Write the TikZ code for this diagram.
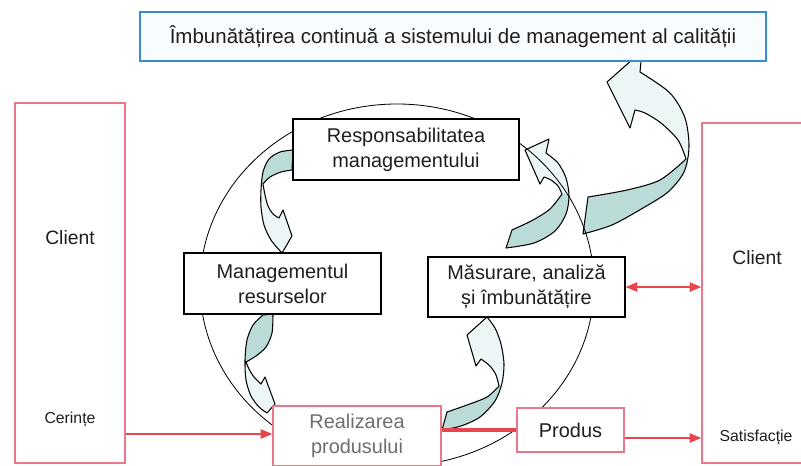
\documentclass[tikz,border=0pt]{standalone}
\usepackage{fontspec}
\setmainfont{Liberation Sans}
\usetikzlibrary{arrows.meta}
\definecolor{pinkb}{RGB}{238,118,138}
\definecolor{redarr}{RGB}{232,70,76}
\definecolor{blueb}{RGB}{55,140,215}
\definecolor{bluefill}{RGB}{248,252,255}
\definecolor{tealD}{RGB}{186,219,215}
\definecolor{tealL}{RGB}{236,246,246}
\definecolor{txt}{RGB}{30,30,30}
\definecolor{graytxt}{RGB}{110,110,110}
\begin{document}
\begin{tikzpicture}[x=0.03cm,y=-0.03cm,
  blackbox/.style={draw=black,line width=1pt,fill=white,inner sep=0pt,align=center,text=txt,font=\fontsize{17}{21.5}\selectfont},
  pinkbox/.style={draw=pinkb,line width=1.2pt,fill=white,inner sep=0pt,align=center,text=txt,font=\fontsize{17}{21.5}\selectfont},
  lbl/.style={text=txt,inner sep=0pt,font=\fontsize{16.5}{21}\selectfont},
  smalllbl/.style={text=txt,inner sep=0pt,font=\fontsize{13.5}{16}\selectfont},
  redarrow/.style={draw=redarr,line width=1.4pt,-{Triangle[length=10pt,width=8pt]}},
  reddouble/.style={draw=redarr,line width=1.4pt,{Triangle[length=10pt,width=8pt]}-{Triangle[length=10pt,width=8pt]}},
  redthick/.style={draw=redarr,line width=3pt},
  outl/.style={draw=black,line width=0.9pt,line join=round},
  ring/.style={draw=black,line width=0.7pt},
  arrApath/.style={insert path={plot[smooth] coordinates {(588,197) (627,190) (660,180) (686,159)}
      -- plot[smooth] coordinates {(686,159) (678,140) (661,123) (645,113) (635,110)}
      -- (630,128) -- (607,82) -- (642,51) -- (640,72)
      -- plot[smooth] coordinates {(640,72) (670,93) (685,118) (689,147) (684,172) (668,192) (643,208) (612,225) (583,234)}
      -- cycle}},
  arrBpath/.style={insert path={plot[smooth] coordinates {(293,150) (280,152) (269,159) (263,172) (261,190) (261,207) (264,225) (271,240) (282,253)}
      -- (292,236) -- (283,210) -- (279,218)
      -- plot[smooth] coordinates {(279,218) (273,214) (268,206) (265,195) (263,184)}
      -- plot[smooth] coordinates {(263,184) (270,177) (281,172) (292,170)}
      -- cycle}},
  arrCpath/.style={insert path={plot[smooth] coordinates {(263,315) (253,325) (247,340) (245,360) (246,380) (251,396) (259,407) (267,413)}
      -- (275,404) -- (265,377) -- (261,384)
      -- plot[smooth] coordinates {(261,384) (254,377) (249,369) (246,362)}
      -- plot[smooth] coordinates {(246,362) (256,356) (266,347) (272,333) (273,314)}
      -- cycle}},
  arrDpath/.style={insert path={(442,430) -- (447,412)
      -- plot[smooth] coordinates {(447,412) (467,405) (487,397) (499,386)}
      -- plot[smooth] coordinates {(499,386) (496,375) (490,366) (481,359)}
      -- (476,366) -- (467,335) -- (487,317)
      -- plot[smooth] coordinates {(487,317) (495,328) (501,344) (504,364) (502,383) (495,401) (480,417) (461,426) (442,430)}
      -- cycle}},
  arrEpath/.style={insert path={(506,248) -- (512,230)
      -- plot[smooth] coordinates {(512,230) (533,220) (550,209) (562,194)}
      -- plot[smooth] coordinates {(562,194) (558,186) (551,180) (544,177)}
      -- (540,184) -- (525,150) -- (549,139) -- (546,153)
      -- plot[smooth] coordinates {(546,153) (558,163) (566,178) (569,196) (566,214) (555,231) (534,243) (506,248)}
      -- cycle}}
]
\useasboundingbox (0,0) rectangle (801,465);

% block arrows
\fill[tealL,arrApath];
\begin{scope}\path[clip,arrApath];
\fill[tealD] plot[smooth] coordinates {(588,197) (627,190) (660,180) (686,159)} -- (700,150) -- (700,260) -- (570,260) -- cycle;
\end{scope}
\path[outl,arrApath];

\fill[tealL,arrBpath];
\begin{scope}\path[clip,arrBpath];
\fill[tealD] plot[smooth] coordinates {(263,184) (270,177) (281,172) (292,170)} -- (300,170) -- (300,140) -- (250,140) -- (250,184) -- cycle;
\end{scope}
\path[outl,arrBpath];

\fill[tealL,arrCpath];
\begin{scope}\path[clip,arrCpath];
\fill[tealD] plot[smooth] coordinates {(246,362) (256,356) (266,347) (272,333) (273,314)} -- (285,305) -- (230,305) -- (230,362) -- cycle;
\end{scope}
\path[outl,arrCpath];

\fill[tealL,arrDpath];
\begin{scope}\path[clip,arrDpath];
\fill[tealD] plot[smooth] coordinates {(447,412) (467,405) (487,397) (499,386)} -- (520,386) -- (520,440) -- (430,440) -- (430,412) -- cycle;
\end{scope}
\path[outl,arrDpath];

\fill[tealL,arrEpath];
\begin{scope}\path[clip,arrEpath];
\fill[tealD] plot[smooth] coordinates {(512,230) (533,220) (550,209) (562,194)} -- (580,194) -- (580,260) -- (500,260) -- (500,230) -- cycle;
\end{scope}
\path[outl,arrEpath];

% ring
\draw[ring] (397,285) ellipse [x radius=5.91cm, y radius=5.43cm];

% top box
\node[draw=blueb,line width=1.8pt,fill=bluefill,minimum width=18.78cm,minimum height=1.47cm,inner sep=0pt,text=txt,font=\fontsize{17.5}{21}\selectfont] (top) at (453,36.5) {Îmbunătățirea continuă a sistemului de management al calității};

% client boxes
\node[draw=pinkb,line width=1.2pt,fill=white,minimum width=3.3cm,minimum height=10.8cm] (clientL) at (70,283) {};
\node[lbl] (clL) at (70,238) {Client};
\node[smalllbl] (cer) at (70,419) {Cerințe};
\node[draw=pinkb,line width=1.2pt,fill=white,minimum width=3.3cm,minimum height=10.2cm] (clientR) at (757,293) {};
\node[lbl] (clR) at (757,258) {Client};
\node[smalllbl] (sat) at (756,437) {Satisfacție};

% process boxes
\node[blackbox,minimum width=6.78cm,minimum height=1.83cm] (resp) at (406,149.5) {Responsabilitatea\\managementului};
\node[blackbox,minimum width=5.91cm,minimum height=1.83cm] (mgmt) at (282.5,283.5) {Managementul\\resurselor};
\node[blackbox,minimum width=5.91cm,minimum height=1.8cm] (mas) at (526.5,287) {Măsurare, analiză\\și îmbunătățire};
\node[pinkbox,minimum width=5.04cm,minimum height=1.8cm,text=graytxt] (real) at (357,436) {Realizarea\\produsului};
\node[pinkbox,minimum width=3.21cm,minimum height=1.32cm] (prod) at (570.5,430) {Produs};

% connectors
\coordinate (ycer) at (0,434);
\coordinate (ysat) at (0,438);
\draw[redarrow] (clientL.east |- ycer) -- (real.west |- ycer);
\draw[redthick] (real.east |- prod.west) -- (prod.west);
\draw[redarrow] (prod.east |- ysat) -- (clientR.west |- ysat);
\draw[reddouble] (mas.east) -- (clientR.west |- mas.east);
\end{tikzpicture}
\end{document}
